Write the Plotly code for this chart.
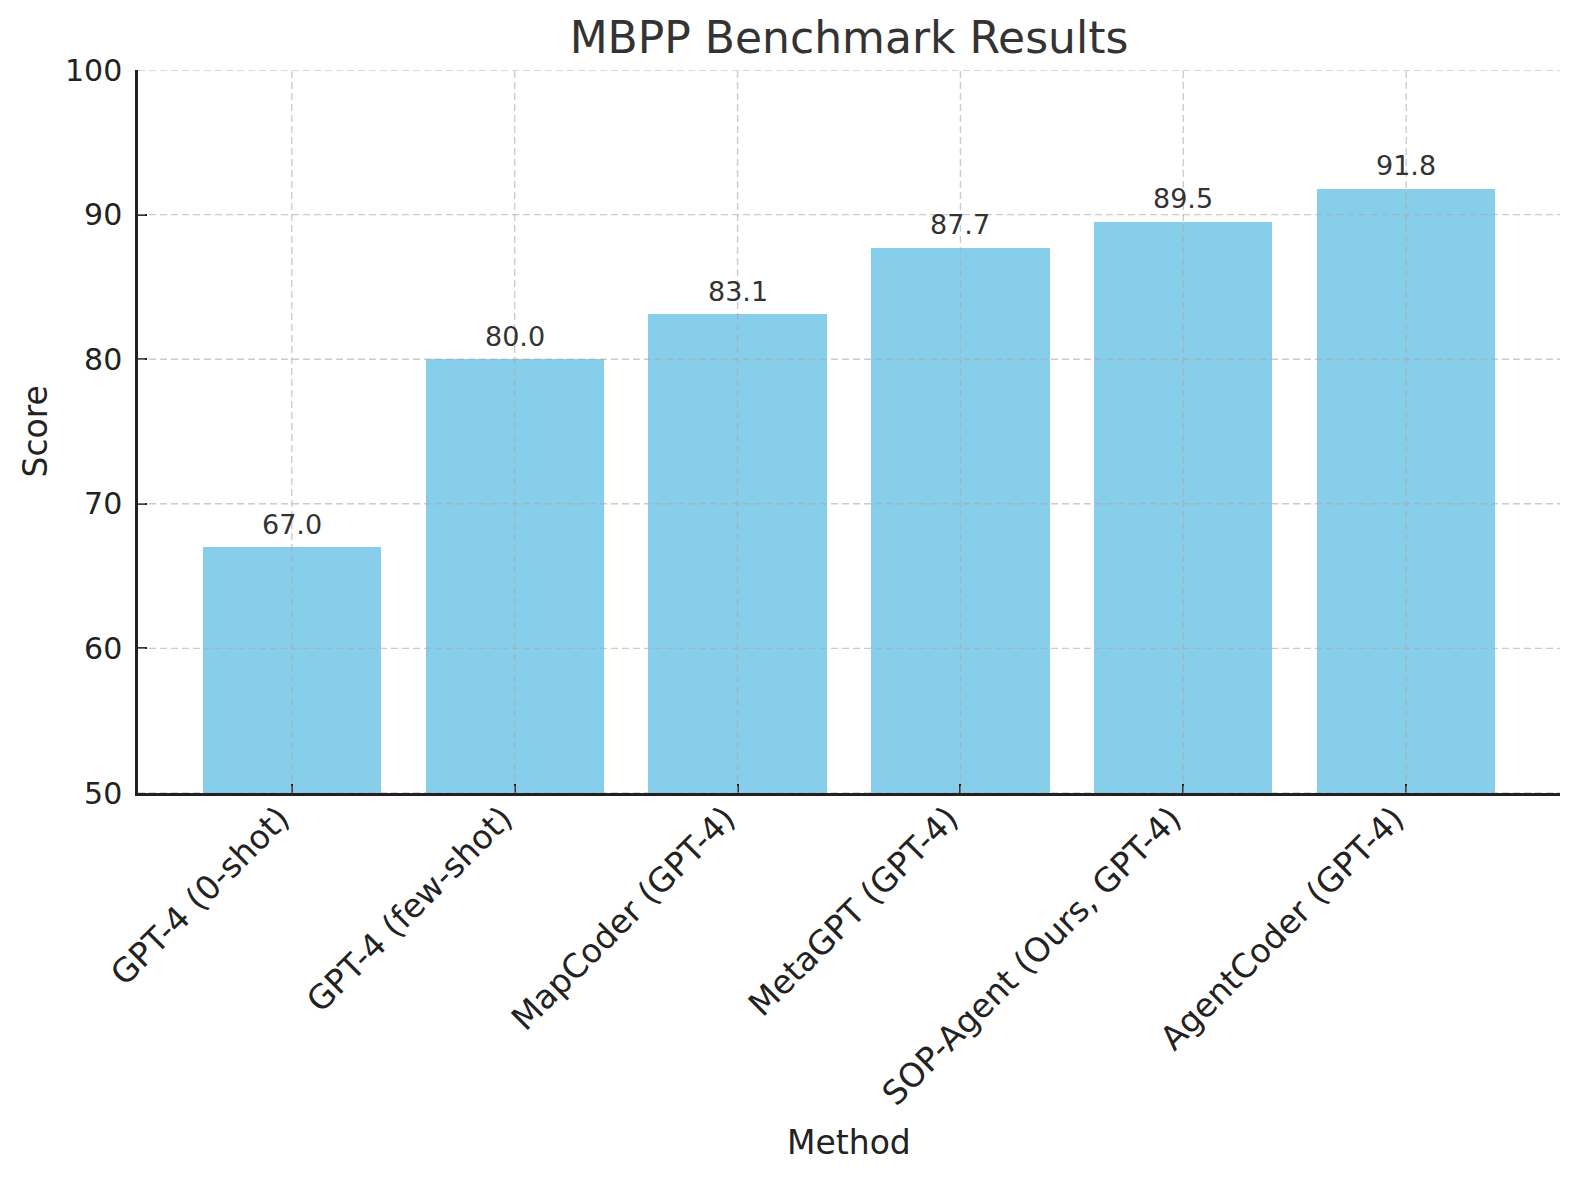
import plotly.graph_objects as go

categories = ["GPT-4 (0-shot)", "GPT-4 (few-shot)", "MapCoder (GPT-4)", "MetaGPT (GPT-4)",
              "SOP-Agent (Ours, GPT-4)", "AgentCoder (GPT-4)"]
scores = [67.0, 80.0, 83.1, 87.7, 89.5, 91.8]
y_ticks = [50, 60, 70, 80, 90, 100]

W, H = 1580, 1180
L, R, T, B = 138, 20, 70, 387
pw, ph = W - L - R, H - T - B

FONT = "DejaVu Sans"
idx = list(range(len(categories)))

fig = go.Figure()
fig.add_trace(go.Bar(x=idx, y=scores, width=0.8, marker=dict(color="#87CEEB", line=dict(width=0)),
                     hoverinfo="skip"))

grid = dict(color="rgba(170,170,170,0.6)", width=1.4, dash="7px,4px")
shapes = []
for v in y_ticks:
    shapes.append(dict(type="line", xref="paper", yref="y", x0=0, x1=1, y0=v, y1=v,
                       line=grid, layer="above"))
for i in idx:
    shapes.append(dict(type="line", xref="x", yref="paper", x0=i, x1=i, y0=0, y1=1,
                       line=grid, layer="above"))

annotations = []
for i, v in zip(idx, scores):
    annotations.append(dict(x=i, y=v, xref="x", yref="y", text=f"{v:.1f}", showarrow=False,
                            yanchor="middle", yshift=23, font=dict(family=FONT, size=27, color="#333333")))
annotations.append(dict(x=-(L - 35) / pw, y=0.5, xref="paper", yref="paper", text="Score",
                        textangle=-90, showarrow=False, xanchor="center", yanchor="middle",
                        font=dict(family=FONT, size=33, color="#222222")))
annotations.append(dict(x=0.5, y=-(1142 - (T + ph)) / ph, xref="paper", yref="paper", text="Method",
                        showarrow=False, xanchor="center", yanchor="middle",
                        font=dict(family=FONT, size=33, color="#222222")))

fig.update_layout(
    width=W, height=H,
    margin=dict(l=L, r=R, t=T, b=B, autoexpand=False),
    plot_bgcolor="white", paper_bgcolor="white",
    showlegend=False,
    title=dict(text="MBPP Benchmark Results", x=(L + pw / 2) / W, xanchor="center",
               y=1 - 38 / H, yanchor="middle", yref="container",
               font=dict(family=FONT, size=44, color="#333333")),
    xaxis=dict(range=[-0.69, 5.69], tickvals=idx, ticktext=categories, tickangle=-45,
               showgrid=False, zeroline=False, showline=True, linecolor="#222222", linewidth=2.5,
               ticks="inside", ticklen=9, tickwidth=2, tickcolor="#222222",
               ticklabelstandoff=-10, ticklabelshift=-12,
               tickfont=dict(family=FONT, size=33, color="#222222")),
    yaxis=dict(range=[50, 100], tickvals=y_ticks, showgrid=False, zeroline=False,
               showline=True, linecolor="#222222", linewidth=2.5,
               ticks="inside", ticklen=9, tickwidth=2, tickcolor="#222222",
               ticklabelstandoff=7,
               tickfont=dict(family=FONT, size=30, color="#222222")),
    shapes=shapes, annotations=annotations,
    bargap=0,
)

fig.write_html("out.html", config={"displayModeBar": False},
               post_script="document.body.style.margin='0px';")
